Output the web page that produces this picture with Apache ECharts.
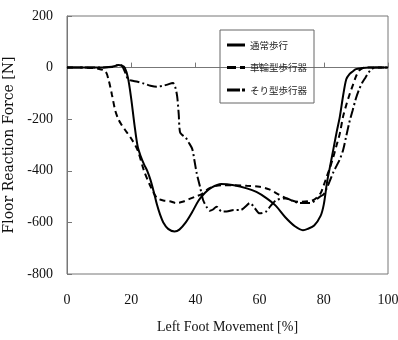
<!DOCTYPE html>
<html>
<head>
<meta charset="utf-8">
<script src="https://cdn.jsdelivr.net/npm/echarts@6/dist/echarts.min.js"></script>
<style>
  html, body { margin: 0; padding: 0; background: #fff; }
  #chart { width: 398px; height: 340px; }
</style>
</head>
<body>
<div id="chart"></div>
<script>
const seriesNames = ['通常歩行', '車輪型歩行器', 'そり型歩行器'];

const normalX = [0, 5, 10, 13, 15, 16, 17, 18, 19, 20, 21, 22, 23, 24, 25, 26, 27, 28, 29, 30, 31.5, 33.5, 35, 37, 39, 41, 43, 45, 48, 52, 56, 59, 62, 65, 68, 71, 73.5, 75, 77, 79, 80, 81, 82, 83, 84, 85, 86, 87, 88, 89, 90, 92, 94, 100];
const normalY = [0, 0, 0, 2, 6, 10, 8, 0, -40, -120, -220, -305, -345, -375, -400, -435, -480, -530, -570, -600, -625, -635, -628, -600, -560, -515, -485, -465, -451, -456, -468, -482, -505, -535, -580, -615, -630, -625, -612, -575, -530, -445, -380, -315, -250, -190, -110, -45, -25, -15, -6, -2, 0, 0];

const wheelX = [0, 5, 10, 12, 13, 14, 15, 16, 17, 18, 20, 22, 24, 26, 28, 30, 32, 34, 36, 38, 40, 42, 44, 46, 48, 52, 56, 60, 63, 66, 69, 72, 75, 77, 79, 80, 81, 82, 83, 84, 85, 86, 87, 88, 89, 90, 91, 92, 93, 100];
const wheelY = [0, 0, -5, -15, -50, -105, -165, -200, -222, -240, -275, -320, -400, -460, -505, -515, -518, -525, -520, -510, -500, -490, -470, -460, -456, -456, -458, -462, -472, -492, -510, -520, -518, -512, -487, -455, -420, -385, -345, -300, -255, -190, -145, -105, -70, -35, -12, -3, 0, 0];

const sledX = [0, 5, 10, 14, 16, 17, 18, 19, 20, 22, 24, 26, 28, 30, 31, 33, 33.7, 34.3, 34.8, 35.2, 36, 37, 38, 39, 39.7, 40.4, 41.4, 42.4, 43.5, 44.5, 45.5, 46.6, 48.2, 49.7, 52, 54, 55.5, 57, 58.5, 60, 62, 63.5, 65.3, 68.4, 70, 72.6, 75.7, 78.8, 80, 81, 82, 83, 84, 85, 86, 87, 88, 89, 90, 91, 92, 93, 94, 95, 96, 100];
const sledY = [0, 0, 0, 2, 10, 8, -15, -45, -50, -55, -62, -70, -74, -70, -67, -60, -75, -110, -180, -250, -262, -272, -292, -315, -360, -409, -460, -513, -540, -555, -550, -539, -558, -558, -552, -552, -540, -525, -545, -565, -558, -535, -513, -507, -515, -525, -525, -500, -490, -465, -435, -405, -380, -355, -320, -265, -210, -165, -120, -85, -58, -38, -18, -5, 0, 0];

const xTicks = { min: 0, max: 100, interval: 20 };
const yTicks = { min: -800, max: 200, interval: 200 };

// legend icons drawn as little bars so the dash pattern shows
const legendIcons = [
  'path://M0,0H18V3H0Z',
  'path://M0,0H9V3H0Z M13,0H18V3H13Z',
  'path://M0,0H13V3H0Z M15,0H18V3H15Z'
];

function zip(xs, ys) {
  return xs.map((x, i) => [x, ys[i]]);
}

const myChart = echarts.init(document.getElementById('chart'));
const serif = 'Liberation Serif';
const option = {
  animation: false,
  backgroundColor: '#fff',
  grid: {
    left: 67, right: 10, top: 16, bottom: 66,
    outerBoundsMode: 'none',
    containLabel: false,
    show: true, borderColor: '#777', borderWidth: 1
  },
  legend: {
    data: seriesNames.map((n, i) => ({ name: n, icon: legendIcons[i] })),
    orient: 'vertical',
    left: 220, top: 30,
    padding: [8, 7, 6, 7],
    itemGap: 8.5,
    itemWidth: 18,
    itemHeight: 3,
    borderColor: '#666',
    borderWidth: 1,
    itemStyle: { color: '#000' },
    textStyle: {
      fontFamily: 'Noto Sans CJK JP',
      fontSize: 9.5,
      lineHeight: 14,
      color: '#222'
    }
  },
  xAxis: {
    type: 'value',
    min: xTicks.min, max: xTicks.max, interval: xTicks.interval,
    name: 'Left Foot Movement [%]',
    nameLocation: 'middle',
    nameGap: 46,
    nameTextStyle: { fontFamily: serif, fontSize: 14, color: '#111' },
    axisLine: { lineStyle: { color: '#777' } },
    axisTick: { inside: true, length: 5, lineStyle: { color: '#777' } },
    axisLabel: { fontFamily: serif, fontSize: 14, color: '#111', margin: 19 },
    splitLine: { show: false }
  },
  yAxis: {
    type: 'value',
    min: yTicks.min, max: yTicks.max, interval: yTicks.interval,
    name: 'Floor Reaction Force [N]',
    nameLocation: 'middle',
    nameGap: 44,
    nameTextStyle: { fontFamily: 'DejaVu Serif', fontSize: 14, color: '#111' },
    axisLine: { lineStyle: { color: '#777' } },
    axisTick: { inside: true, length: 5, lineStyle: { color: '#777' } },
    axisLabel: { fontFamily: serif, fontSize: 14, color: '#111', margin: 14 },
    splitLine: { show: false }
  },
  series: [
    {
      name: seriesNames[0],
      type: 'line',
      data: zip(normalX, normalY),
      showSymbol: false,
      smooth: 0.3,
      lineStyle: { color: '#000', width: 2, type: 'solid' },
      itemStyle: { color: '#000' }
    },
    {
      name: seriesNames[1],
      type: 'line',
      data: zip(wheelX, wheelY),
      showSymbol: false,
      smooth: 0.3,
      lineStyle: { color: '#000', width: 2, type: [6, 4] },
      itemStyle: { color: '#000' }
    },
    {
      name: seriesNames[2],
      type: 'line',
      data: zip(sledX, sledY),
      showSymbol: false,
      smooth: 0.3,
      lineStyle: { color: '#000', width: 2, type: [10, 3, 2, 3] },
      itemStyle: { color: '#000' }
    }
  ]
};

myChart.setOption(option);
</script>
</body>
</html>
